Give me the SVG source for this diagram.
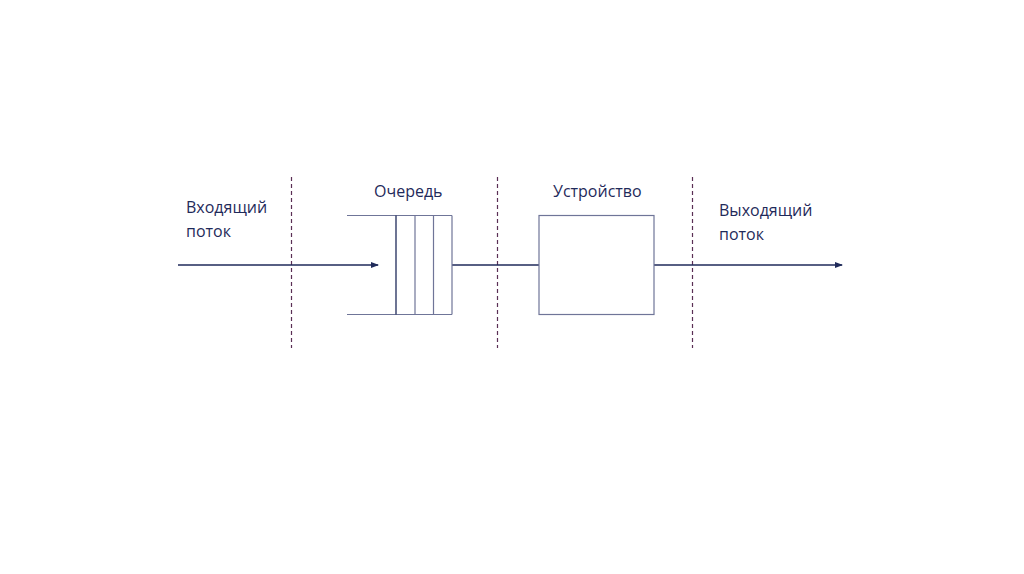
<svg xmlns="http://www.w3.org/2000/svg" width="1024" height="574" viewBox="0 0 1024 574">
<style>
text{font-family:"Open Sans","Liberation Sans",sans-serif;font-size:16px;fill:#1f2a5a}
.ln{stroke:#1f2a5a;stroke-width:1.3;fill:none}
.bx{stroke:#6f7598;stroke-width:1.2;fill:#fff}
.dash{stroke:#5a2f55;stroke-width:1.2;stroke-dasharray:4,3}
</style>
<defs>
<marker id="ah" markerWidth="8" markerHeight="6" refX="7" refY="3" orient="auto" markerUnits="userSpaceOnUse">
<path d="M0,0 L8,3 L0,6 Z" fill="#1f2a5a"/>
</marker>
</defs>
<rect width="1024" height="574" fill="#fff"/>
<g id="dividers">
<line class="dash" x1="291.5" y1="177" x2="291.5" y2="348"/>
<line class="dash" x1="497.5" y1="177" x2="497.5" y2="348"/>
<line class="dash" x1="692.5" y1="177" x2="692.5" y2="348"/>
</g>
<g id="connectors">
<line class="ln" x1="178" y1="265" x2="378" y2="265" marker-end="url(#ah)"/>
<line class="ln" x1="452" y1="265" x2="539" y2="265"/>
<line class="ln" x1="654" y1="265" x2="842" y2="265" marker-end="url(#ah)"/>
</g>
<g id="queue">
<line class="bx" x1="347" y1="215.5" x2="452" y2="215.5"/>
<line class="bx" x1="347" y1="314.5" x2="452" y2="314.5"/>
<line class="ln" x1="396" y1="215.5" x2="396" y2="314.5"/>
<line class="bx" x1="415" y1="215.5" x2="415" y2="314.5"/>
<line class="bx" x1="433.5" y1="215.5" x2="433.5" y2="314.5"/>
<line class="bx" x1="452" y1="215.5" x2="452" y2="314.5"/>
<text x="374" y="197">Очередь</text>
</g>
<g id="device">
<rect class="bx" x="539" y="215.5" width="115" height="99"/>
<text x="553" y="197">Устройство</text>
</g>
<g id="input">
<text x="186" y="213">Входящий</text>
<text x="186" y="237">поток</text>
</g>
<g id="output">
<text x="719" y="216">Выходящий</text>
<text x="719" y="240">поток</text>
</g>
</svg>
